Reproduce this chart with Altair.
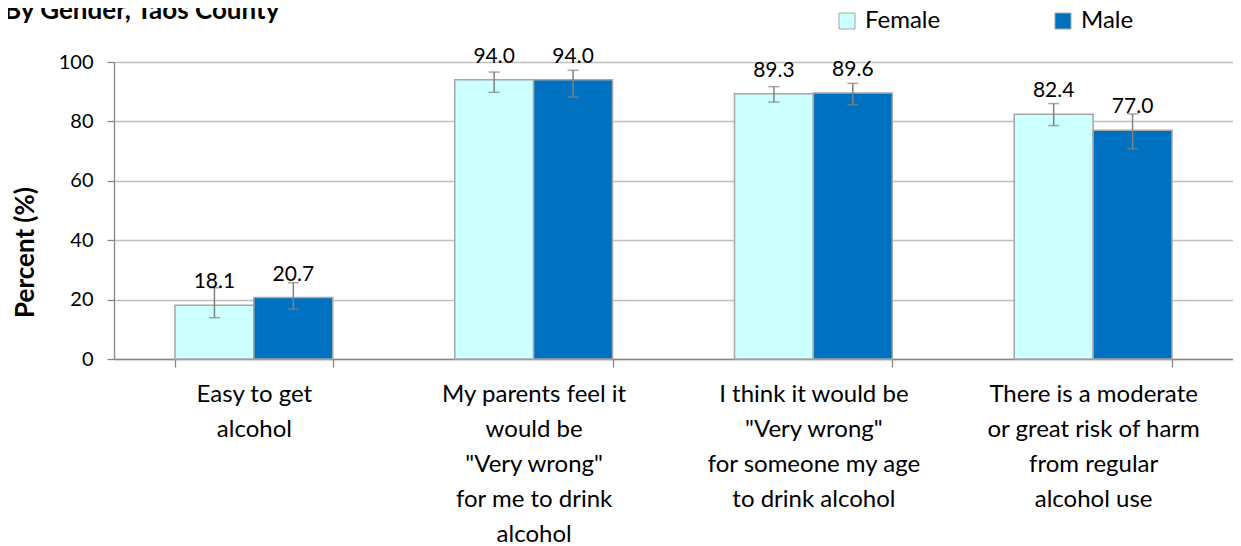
import altair as alt
import pandas as pd

title_text = "By Gender, Taos County"
categories = [
    "Easy to get\nalcohol",
    "My parents feel it\nwould be\n\"Very wrong\"\nfor me to drink\nalcohol",
    "I think it would be\n\"Very wrong\"\nfor someone my age\nto drink alcohol",
    "There is a moderate\nor great risk of harm\nfrom regular\nalcohol use",
]
genders = ["Female", "Male"]
female_values = [18.1, 94.0, 89.3, 82.4]
male_values = [20.7, 94.0, 89.6, 77.0]
female_lower = [13.9, 89.8, 86.5, 78.6]
female_upper = [24.0, 96.6, 91.7, 86.0]
male_lower = [16.8, 88.2, 85.6, 70.8]
male_upper = [25.7, 97.2, 92.8, 82.5]
y_ticks = [0, 20, 40, 60, 80, 100]
colors = ["#CCFFFF", "#0070C0"]

rows = []
for i, c in enumerate(categories):
    rows.append({"category": c, "gender": "Female", "value": female_values[i],
                 "lower": female_lower[i], "upper": female_upper[i]})
    rows.append({"category": c, "gender": "Male", "value": male_values[i],
                 "lower": male_lower[i], "upper": male_upper[i]})
df = pd.DataFrame(rows)

FONT = "Lato"
GRAY = "#868686"

x_enc = alt.X(
    "category:N", sort=categories,
    scale=alt.Scale(paddingInner=0.436, paddingOuter=0.218),
    axis=alt.Axis(
        title=None, labelAngle=0, tickBand="extent",
        labelExpr="split(datum.label, '\\n')",
        labelFontSize=24, labelLineHeight=35, labelFont=FONT, labelColor="#000000",
        labelPadding=15, labelLimit=400, tickSize=8, tickColor=GRAY, tickWidth=1.3,
        domainColor=GRAY, domainWidth=1.3, grid=False, labelBaseline="top",
    ),
)
xoff = alt.XOffset("gender:N", sort=genders, scale=alt.Scale(paddingInner=0, paddingOuter=0))
y_scale = alt.Scale(domain=[0, 100], nice=False)

base = alt.Chart(df).encode(x=x_enc, xOffset=xoff)

bars = base.mark_bar(stroke="#A6A6A6", strokeWidth=1.5).encode(
    y=alt.Y("value:Q", scale=y_scale, axis=alt.Axis(
        values=y_ticks, title="Percent (%)", titleFont=FONT, titleFontSize=26,
        titleFontWeight="bold", titleColor="#000000", titleX=-89, titleY=190,
        titleBaseline="middle",
        labelFontSize=20, labelFont=FONT, labelColor="#000000", labelPadding=14,
        tickSize=7, tickColor=GRAY, tickWidth=1.3, domainColor=GRAY, domainWidth=1.3,
        gridColor="#C0C0C0", gridWidth=1.3,
    )),
    color=alt.Color("gender:N", scale=alt.Scale(domain=genders, range=colors),
                    legend=alt.Legend(
                        title=None, orient="none", legendX=721, legendY=-53,
                        direction="horizontal", columns=2, columnPadding=110,
                        symbolType="square", symbolSize=256, symbolStrokeColor="#A6A6A6",
                        symbolStrokeWidth=1, labelFontSize=24, labelFont=FONT,
                        labelColor="#000000", labelOffset=6, padding=0,
                    )),
)

err = base.mark_rule(color="#808080", strokeWidth=1.5).encode(
    y=alt.Y("lower:Q", scale=y_scale), y2="upper:Q")
cap_lo = base.mark_tick(color="#808080", thickness=1.5, size=11, orient="horizontal").encode(
    y=alt.Y("lower:Q", scale=y_scale))
cap_hi = base.mark_tick(color="#808080", thickness=1.5, size=11, orient="horizontal").encode(
    y=alt.Y("upper:Q", scale=y_scale))

labels = base.mark_text(dy=-17, baseline="alphabetic", fontSize=21, font=FONT,
                        color="#000000").encode(
    y=alt.Y("value:Q", scale=y_scale),
    text=alt.Text("value:Q", format=".1f"))

title = alt.Chart(pd.DataFrame({"t": [title_text]})).mark_text(
    align="left", baseline="alphabetic", fontSize=26, fontWeight="bold", font=FONT,
    color="#000000").encode(x=alt.value(-110), y=alt.value(-43), text="t:N")

chart = alt.layer(bars, err, cap_lo, cap_hi, labels, title).properties(
    width=1119, height=297,
    autosize=alt.AutoSizeParams(type="none"),
    padding={"left": 106, "top": 54, "right": 0, "bottom": 188},
).configure_view(stroke=None).configure(font=FONT)

chart.save("out.html", embed_options={"renderer": "svg", "actions": False})
